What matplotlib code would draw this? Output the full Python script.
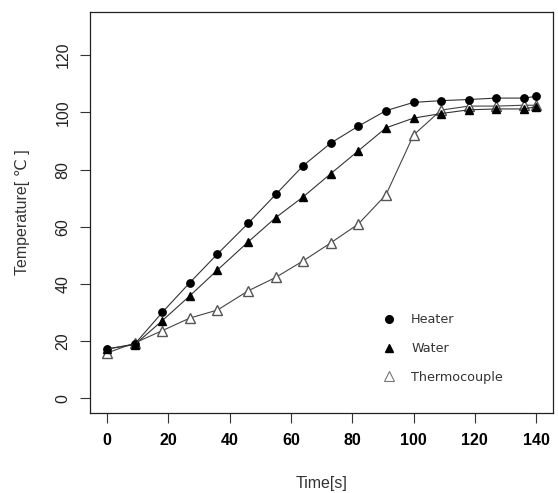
import matplotlib
matplotlib.use("Agg")
import matplotlib.pyplot as plt
from matplotlib.lines import Line2D

time = [0, 9, 18, 27, 36, 46, 55, 64, 73, 82, 91, 100, 109, 118, 127, 136, 140]
heater = [17.3, 19.0, 30.1, 40.5, 50.5, 61.2, 71.3, 81.4, 89.3, 95.2, 100.6, 103.5, 104.1, 104.5, 105.0, 105.0, 105.6]
water = [17.3, 18.8, 27.2, 35.9, 44.9, 54.7, 63.2, 70.5, 78.6, 86.6, 94.6, 98.0, 99.6, 100.9, 101.2, 101.2, 102.0]
thermo = [15.9, 19.4, 23.7, 28.1, 30.9, 37.6, 42.3, 48.1, 54.4, 61.0, 71.2, 92.1, 100.8, 102.2, 102.2, 102.5, 102.5]

xticks = [0, 20, 40, 60, 80, 100, 120, 140]
yticks = [0, 20, 40, 60, 80, 100, 120]

fig = plt.figure(figsize=(5.58, 4.93), dpi=100)
ax = fig.add_axes([90/558, 1-413.3/493, (553.3-90)/558, (413.3-11.7)/493])

ax.plot(time, heater, color='#333333', lw=0.8, marker='o', ms=5.3, mfc='black', mec='black', zorder=3)
ax.plot(time, water, color='#333333', lw=0.8, marker='^', ms=6.0, mfc='black', mec='black', zorder=3)
ax.plot(time, thermo, color='#444444', lw=0.8, marker='^', ms=7.0, mfc='white', mec='#555555', mew=1.0, zorder=2)

ax.set_xlim(-5.6, 145.6)
ax.set_ylim(-5.2, 135.2)
ax.set_xticks(xticks)
ax.set_yticks(yticks)
ax.set_xticklabels([str(v) for v in xticks], fontfamily='Liberation Sans', fontweight='bold', fontsize=11.5, color='black')
ax.set_yticklabels([str(v) for v in yticks], fontfamily='Liberation Sans', fontsize=11.5, color='#222222', rotation=90, va='center')
ax.tick_params(axis='both', length=7.2, width=0.8, color='#333333')
ax.tick_params(axis='x', pad=7)
ax.tick_params(axis='y', pad=7)
for s in ax.spines.values():
    s.set_linewidth(0.9)
    s.set_color('#222222')

ax.set_xlabel('Time[s]', fontfamily=['Liberation Sans', 'DejaVu Sans'], fontsize=11.5, color='#333333', labelpad=20)
ax.set_ylabel('Temperature[ ℃ ]', fontfamily=['Liberation Sans', 'DejaVu Sans'], fontsize=11.5, color='#333333', labelpad=18.5)

handles = [
    Line2D([], [], ls='none', marker='o', ms=5.5, mfc='black', mec='black'),
    Line2D([], [], ls='none', marker='^', ms=6.0, mfc='black', mec='black'),
    Line2D([], [], ls='none', marker='^', ms=7.5, mfc='white', mec='#777777', mew=0.8),
]
ax.legend(handles, ['Heater', 'Water', 'Thermocouple'], loc='upper left',
          bbox_to_anchor=((383-90)/463.3, (413.3-313)/401.6), frameon=False,
          prop={'family': 'DejaVu Sans', 'size': 9.2}, labelcolor='#333333',
          handlelength=1.0, handletextpad=1.2, labelspacing=1.25, borderpad=0, borderaxespad=0)

fig.savefig('out.png', dpi=100)
